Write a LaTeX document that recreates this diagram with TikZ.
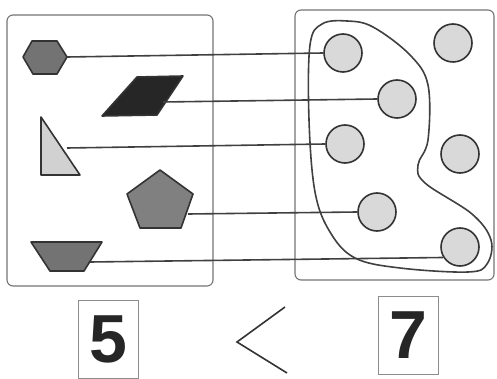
\documentclass[tikz,border=0pt]{standalone}
\usepackage{fontspec}
\newfontfamily\numfont{Liberation Sans}
\begin{document}
\begin{tikzpicture}[x=1pt,y=-1pt,
  frame/.style={draw=black!55,line width=1.1pt,rounded corners=6pt},
  shapeline/.style={draw=black!80,line width=1.6pt,line join=round},
  dot/.style={circle,draw=black!80,line width=1.6pt,fill=black!15,minimum size=38pt,inner sep=0pt},
  link/.style={draw=black!75,line width=1.6pt},
  numbox/.style={draw=black!45,line width=0.9pt,minimum width=60pt,minimum height=78pt,inner sep=0pt,font=\numfont\bfseries\fontsize{68}{68}\selectfont,text=black!85}]
\useasboundingbox (0,0) rectangle (497,379);
% frames
\draw[frame] (7,15) rectangle (213,286);
\draw[frame] (295,10) rectangle (494,280);
% shapes on the left
\draw[shapeline,fill=black!55] (23,57) -- (32,41) -- (57,41) -- (67,57) -- (57,74) -- (33,74) -- cycle;
\coordinate (hx) at (67,57);
\draw[shapeline,fill=black!85] (102,116) -- (137,77) -- (183,76) -- (157,115) -- cycle;
\coordinate (pg) at (163,102);
\draw[shapeline,fill=black!18] (41,117) -- (41,175) -- (80,175) -- cycle;
\coordinate (tr) at (67,148);
\draw[shapeline,fill=black!50] (160,170) -- (193,194) -- (181,228) -- (140,228) -- (127,194) -- cycle;
\coordinate (pt) at (188,214);
\draw[shapeline,fill=black!55] (31,242) -- (102,242) -- (84,271) -- (50,271) -- cycle;
\coordinate (tz) at (90,262);
% circles
\node[dot] (c1) at (343,53) {};
\node[dot] (c2) at (397,99) {};
\node[dot] (c3) at (345,144) {};
\node[dot] (c4) at (377,212) {};
\node[dot] (c5) at (460,247) {};
\node[dot] (c6) at (453,43) {};
\node[dot] (c7) at (460,154) {};
% blob
\draw[draw=black!75,line width=1.6pt] plot[smooth cycle,tension=0.6] coordinates {
 (322,24) (347,21) (373,27) (410,55) (428,85) (428,140) (418,165) (425,183) (472,214) (491,240) (487,264) (468,272) (400,268) (355,258) (330,232) (315,192) (309,120) (310,45)};
% links
\draw[link] (hx) -- (c1.west);
\draw[link] (pg) -- (c2.west);
\draw[link] (tr) -- (c3.west);
\draw[link] (pt) -- (c4.west);
\draw[link] (tz) -- (c5.212);
% numbers
\node[numbox] (n5) at (108,339) {5};
\node[numbox] (n7) at (408,335) {7};
\draw[black!80,line width=1.6pt] (285,307) -- (237,342) -- (287,373);
\end{tikzpicture}
\end{document}
